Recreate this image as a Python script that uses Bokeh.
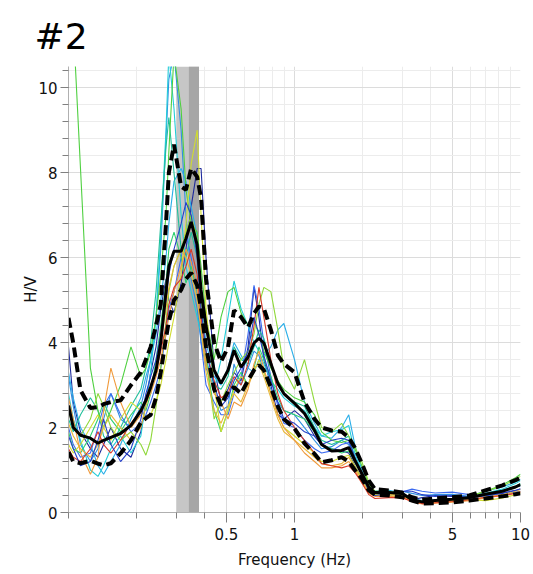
from bokeh.plotting import figure
from bokeh.models import (Range1d, FixedTicker, SingleIntervalTicker, CustomJSTickFormatter, Title)
from bokeh.embed import file_html
from bokeh.resources import INLINE

# ---------------- data ----------------
freq = [0.100, 0.105, 0.113, 0.125, 0.135, 0.143, 0.154, 0.170, 0.189, 0.209,
        0.220, 0.231, 0.244, 0.256, 0.270, 0.278, 0.293, 0.315, 0.331, 0.349,
        0.371, 0.386, 0.406, 0.441, 0.473, 0.508, 0.540, 0.580, 0.623, 0.662,
        0.696, 0.732, 0.786, 0.844, 0.897, 1.00, 1.107, 1.226, 1.318, 1.46,
        1.617, 1.738, 1.848, 1.985, 2.133, 2.268, 2.617, 2.989, 3.311, 3.668,
        4.19, 4.988, 5.933, 6.99, 8.318, 9.5, 10.0]

hv_mean = [2.52, 2.0, 1.82, 1.75, 1.63, 1.70, 1.77, 1.86, 2.05, 2.40,
           2.64, 2.95, 3.35, 4.0, 5.2, 5.8, 6.15, 6.15, 6.45, 6.84,
           6.3, 5.24, 4.4, 3.35, 3.04, 3.35, 3.82, 3.42, 3.66, 3.99,
           4.1, 3.99, 3.51, 3.04, 2.8, 2.57, 2.33, 1.93, 1.6, 1.45,
           1.46, 1.53, 1.23, 0.92, 0.59, 0.47, 0.47, 0.45, 0.3, 0.25,
           0.28, 0.31, 0.35, 0.43, 0.5, 0.6, 0.66]

hv_upper = [4.58, 3.99, 2.88, 2.46, 2.48, 2.55, 2.6, 2.64, 3.0, 3.3,
            3.6, 3.9, 4.4, 4.9, 6.8, 8.0, 8.66, 7.67, 7.6, 8.1,
            7.9, 7.4, 5.5, 4.0, 3.55, 3.89, 4.76, 4.6, 4.36, 4.69,
            4.85, 4.8, 4.3, 3.7, 3.5, 3.3, 2.6, 2.2, 2.0, 1.93,
            1.9, 1.77, 1.53, 1.16, 0.75, 0.55, 0.52, 0.47, 0.36, 0.3,
            0.33, 0.36, 0.4, 0.52, 0.64, 0.76, 0.82]

hv_lower = [1.42, 1.2, 1.16, 1.22, 1.15, 1.11, 1.16, 1.39, 1.7, 2.12,
            2.22, 2.3, 2.7, 3.3, 4.1, 4.5, 5.0, 5.24, 5.5, 5.64,
            5.35, 4.8, 3.9, 2.9, 2.52, 2.85, 2.95, 2.8, 3.11, 3.35,
            3.47, 3.35, 2.95, 2.5, 2.2, 1.98, 1.63, 1.38, 1.18, 1.23,
            1.3, 1.2, 1.0, 0.8, 0.52, 0.42, 0.4, 0.36, 0.28, 0.21,
            0.22, 0.24, 0.28, 0.33, 0.38, 0.43, 0.45]

# individual time windows
win_colors = ["#1e2a9c", "#2f8fe0", "#3c6af0", "#2aaee8", "#22ccd8", "#1fbf9a", "#2fcf70",
              "#4fd040", "#8fd83a", "#d0dc30", "#e8b83a", "#f09a3c", "#d83a2a", "#2640c8"]

win_01 = [3.9, 2.6, 1.9, 1.5, 1.3, 1.6, 2.0, 1.5, 1.3, 1.9, 2.6, 3.3, 3.9, 4.8, 5.5, 5.0, 4.7, 5.4, 6.2, 7.2,
          8.1, 8.1, 6.0, 3.4, 2.6, 2.9, 3.3, 3.1, 3.9, 5.3, 4.6, 3.6, 3.0, 2.3, 2.2, 2.4, 2.2, 1.8, 1.6, 1.5,
          1.45, 1.4, 1.1, 0.8, 0.5, 0.42, 0.44, 0.42, 0.3, 0.35, 0.4, 0.38, 0.33, 0.4, 0.45, 0.52, 0.55]
win_02 = [3.2, 2.5, 1.6, 1.2, 1.5, 2.2, 2.8, 2.2, 2.0, 2.5, 3.0, 3.6, 4.6, 6.2, 8.8, 10.2, 10.8, 9.0, 7.0, 5.5,
          4.8, 4.0, 3.4, 2.9, 2.4, 2.5, 3.5, 3.0, 3.4, 3.8, 3.7, 3.3, 2.9, 2.6, 2.4, 2.3, 2.0, 1.7, 1.5, 1.55,
          1.7, 1.6, 1.2, 0.9, 0.55, 0.45, 0.45, 0.5, 0.45, 0.4, 0.42, 0.43, 0.38, 0.45, 0.5, 0.6, 0.62]
win_03 = [2.0, 1.6, 1.3, 1.4, 2.0, 2.5, 2.8, 2.3, 1.9, 2.1, 2.3, 2.6, 3.0, 3.4, 4.2, 4.8, 5.2, 6.0, 6.6, 6.0,
          5.2, 4.0, 3.0, 2.6, 2.3, 2.3, 2.8, 3.2, 4.2, 5.35, 4.8, 4.0, 3.2, 2.5, 2.1, 2.0, 1.7, 1.5, 1.4, 1.45,
          1.6, 1.65, 1.3, 0.9, 0.5, 0.4, 0.4, 0.48, 0.55, 0.5, 0.46, 0.48, 0.42, 0.4, 0.42, 0.48, 0.5]
win_04 = [3.3, 2.7, 2.0, 1.6, 1.1, 0.9, 1.2, 1.6, 2.2, 2.7, 3.2, 3.6, 4.2, 5.0, 6.0, 6.8, 7.8, 8.1, 7.8, 7.2,
          6.5, 5.0, 4.0, 3.2, 3.0, 3.4, 4.0, 3.7, 3.4, 3.3, 3.6, 3.7, 3.9, 4.3, 4.45, 3.6, 2.6, 2.1, 1.8, 1.75,
          2.0, 2.3, 1.6, 1.0, 0.6, 0.5, 0.52, 0.46, 0.33, 0.28, 0.3, 0.33, 0.38, 0.5, 0.6, 0.72, 0.78]
win_05 = [2.8, 2.2, 1.7, 1.0, 0.85, 1.1, 1.5, 1.8, 1.4, 1.8, 2.6, 3.3, 4.6, 6.5, 9.0, 10.8, 9.5, 7.0, 5.8, 5.2,
          4.6, 4.2, 3.5, 2.9, 3.6, 4.6, 5.45, 4.8, 4.4, 4.0, 3.8, 3.5, 3.1, 2.9, 2.7, 2.5, 2.4, 2.0, 1.8, 1.9,
          1.95, 2.05, 1.4, 0.95, 0.6, 0.5, 0.48, 0.42, 0.32, 0.25, 0.27, 0.3, 0.36, 0.45, 0.55, 0.68, 0.75]
win_06 = [2.2, 1.9, 2.3, 2.7, 2.4, 1.8, 1.6, 2.0, 2.5, 2.9, 3.4, 4.0, 5.2, 6.8, 8.6, 9.3, 8.0, 6.2, 6.0, 6.6,
          6.0, 4.6, 3.6, 3.0, 2.9, 3.2, 3.9, 3.6, 3.5, 3.9, 4.3, 4.1, 3.5, 3.0, 2.8, 2.6, 2.5, 2.0, 1.7, 1.6,
          1.7, 1.8, 1.3, 0.95, 0.6, 0.5, 0.5, 0.44, 0.3, 0.26, 0.3, 0.32, 0.36, 0.44, 0.52, 0.62, 0.68]
win_07 = [1.9, 1.5, 1.4, 1.8, 2.2, 2.6, 2.2, 1.9, 2.3, 2.6, 2.4, 2.8, 3.6, 4.4, 5.4, 6.2, 6.6, 6.0, 5.4, 5.8,
          5.2, 4.4, 3.6, 2.4, 1.9, 2.4, 3.0, 3.3, 3.0, 3.4, 3.9, 3.6, 3.2, 2.7, 2.4, 2.3, 2.2, 1.9, 1.6, 1.5,
          1.4, 1.45, 1.2, 0.9, 0.55, 0.45, 0.46, 0.45, 0.32, 0.26, 0.27, 0.3, 0.35, 0.42, 0.5, 0.6, 0.66]
win_08 = [14.0, 11.5, 8.1, 3.4, 2.4, 2.0, 2.4, 3.0, 3.9, 3.2, 3.4, 3.8, 4.6, 5.6, 7.0, 8.5, 10.8, 9.5, 7.6, 6.8,
          6.6, 5.8, 4.6, 3.6, 4.6, 5.2, 5.3, 4.7, 4.4, 4.5, 4.2, 3.8, 3.4, 3.1, 2.9, 2.7, 2.6, 2.3, 1.9, 1.7,
          1.65, 1.7, 1.5, 1.1, 0.65, 0.5, 0.48, 0.42, 0.3, 0.25, 0.27, 0.3, 0.38, 0.5, 0.65, 0.82, 0.9]
win_09 = [2.4, 2.0, 1.8, 2.2, 2.8, 2.5, 2.0, 1.7, 1.9, 1.6, 1.35, 1.7, 2.5, 3.4, 4.5, 5.2, 5.8, 6.2, 6.6, 7.0,
          6.4, 5.0, 3.6, 2.2, 2.6, 3.0, 3.3, 3.6, 3.8, 4.2, 4.9, 5.3, 5.2, 4.3, 3.4, 2.9, 3.6, 2.6, 2.0, 1.9,
          2.1, 1.8, 1.55, 1.2, 0.7, 0.5, 0.5, 0.44, 0.32, 0.26, 0.28, 0.3, 0.37, 0.5, 0.62, 0.78, 0.85]
win_10 = [1.6, 1.4, 1.6, 2.0, 2.3, 2.0, 1.7, 2.2, 2.6, 2.4, 2.2, 2.3, 2.6, 3.0, 3.6, 4.0, 4.6, 5.6, 6.8, 8.2,
          9.0, 7.0, 4.8, 3.0, 1.9, 2.4, 2.9, 3.2, 3.0, 3.3, 3.6, 3.3, 2.8, 2.3, 2.0, 1.8, 1.6, 1.4, 1.2, 1.2,
          1.3, 1.35, 1.1, 0.8, 0.5, 0.42, 0.42, 0.4, 0.28, 0.22, 0.24, 0.26, 0.3, 0.28, 0.34, 0.42, 0.46]
win_11 = [2.1, 1.8, 1.5, 1.3, 1.6, 2.0, 2.3, 2.0, 1.7, 2.0, 2.5, 2.9, 3.4, 4.0, 4.8, 5.3, 5.8, 6.2, 6.0, 5.6,
          5.0, 4.3, 3.3, 2.4, 2.1, 2.5, 2.8, 2.6, 3.0, 3.4, 3.5, 3.2, 2.7, 2.2, 1.9, 1.7, 1.5, 1.3, 1.15, 1.1,
          1.15, 1.3, 1.05, 0.75, 0.48, 0.4, 0.42, 0.4, 0.28, 0.22, 0.25, 0.28, 0.3, 0.36, 0.42, 0.5, 0.55]
win_12 = [2.7, 2.2, 1.4, 0.9, 1.3, 2.4, 3.4, 2.6, 2.0, 2.3, 2.6, 2.8, 3.2, 3.6, 4.2, 4.6, 5.2, 5.8, 6.2, 5.9,
          5.3, 4.4, 3.5, 2.8, 2.6, 2.2, 2.6, 2.5, 2.9, 3.5, 3.8, 3.4, 2.8, 2.3, 2.0, 1.7, 1.4, 1.2, 1.05, 1.05,
          1.1, 1.2, 1.0, 0.7, 0.45, 0.38, 0.38, 0.36, 0.26, 0.2, 0.22, 0.24, 0.28, 0.34, 0.4, 0.46, 0.5]
win_13 = [1.5, 1.3, 1.2, 1.5, 1.9, 1.6, 1.4, 1.7, 2.1, 2.4, 2.7, 3.0, 3.3, 3.8, 4.4, 4.9, 5.3, 5.5, 5.8, 6.2,
          5.6, 4.6, 3.8, 3.1, 2.7, 2.8, 3.2, 3.0, 3.5, 4.4, 5.3, 4.6, 3.6, 2.8, 2.4, 2.0, 1.7, 1.4, 1.15, 1.1,
          1.05, 1.1, 0.95, 0.7, 0.42, 0.33, 0.35, 0.35, 0.26, 0.21, 0.23, 0.26, 0.3, 0.36, 0.4, 0.45, 0.48]
win_14 = [1.8, 1.5, 1.1, 1.2, 1.7, 2.2, 1.6, 1.2, 1.5, 2.2, 2.8, 3.2, 3.6, 4.2, 5.0, 5.6, 6.2, 6.8, 7.3, 7.0,
          6.0, 4.8, 3.8, 3.0, 2.5, 2.7, 3.1, 3.4, 3.8, 4.6, 4.2, 3.7, 3.1, 2.6, 2.2, 2.1, 1.9, 1.8, 1.6, 1.7,
          1.75, 1.7, 1.3, 0.9, 0.5, 0.4, 0.45, 0.5, 0.5, 0.42, 0.38, 0.4, 0.36, 0.4, 0.46, 0.52, 0.56]
windows = [win_01, win_02, win_03, win_04, win_05, win_06, win_07,
           win_08, win_09, win_10, win_11, win_12, win_13, win_14]

# f0 band (Hz)
band_light = (0.300, 0.378)
band_dark = (0.341, 0.378)

x_major = [0.5, 1, 5, 10]
x_minor = [0.1, 0.2, 0.3, 0.4, 0.6, 0.7, 0.8, 0.9, 2, 3, 4, 6, 7, 8, 9]

# ---------------- figure ----------------
FONT = "DejaVu Sans"
p = figure(frame_width=452, frame_height=446, x_axis_type="log",
           x_range=Range1d(0.1, 10), y_range=Range1d(0, 10.5),
           output_backend="svg", toolbar_location=None,
           min_border_left=68, min_border_right=12, min_border_top=66, min_border_bottom=56)
p.outline_line_color = None
p.background_fill_color = "white"

t = Title(text="#2", align="left", text_font=FONT, text_font_size="36px",
          text_font_style="normal", text_color="black", offset=-34, standoff=20)
p.add_layout(t, "above")

# band
p.quad(left=[band_light[0]], right=[band_light[1]], bottom=[0], top=[10.5],
       fill_color="#c6c6c6", line_color=None)
p.quad(left=[band_dark[0]], right=[band_dark[1]], bottom=[0], top=[10.5],
       fill_color="#a6a6a6", line_color=None)

for w, c in zip(windows, win_colors):
    p.line(freq, w, line_color=c, line_width=1.1)

p.line(freq, hv_upper, line_color="black", line_width=4, line_dash="10 5")
p.line(freq, hv_lower, line_color="black", line_width=4, line_dash="10 5")
p.line(freq, hv_mean, line_color="black", line_width=3)

# axes
p.xaxis.ticker = FixedTicker(ticks=x_major, minor_ticks=x_minor)
p.xaxis.formatter = CustomJSTickFormatter(code="return String(tick);")
p.yaxis.ticker = SingleIntervalTicker(interval=2, num_minor_ticks=5)

for ax in (p.xaxis[0], p.yaxis[0]):
    ax.axis_line_color = "#b0b0b0"
    ax.major_tick_line_color = "#808080"
    ax.minor_tick_line_color = "#808080"
    ax.major_tick_in = 0
    ax.minor_tick_in = 0
    ax.major_label_text_font = FONT
    ax.major_label_text_font_size = "15px"
    ax.major_label_text_color = "#111111"
    ax.axis_label_text_font = FONT
    ax.axis_label_text_font_size = "15px"
    ax.axis_label_text_font_style = "normal"
    ax.axis_label_text_color = "#111111"

p.xaxis.major_tick_out = 10
p.xaxis.minor_tick_out = 6
p.yaxis.major_tick_out = 8
p.yaxis.minor_tick_out = 6
p.yaxis.major_label_standoff = 3
p.xaxis.axis_label = "Frequency (Hz)"
p.yaxis.axis_label = "H/V"
p.xaxis.axis_label_standoff = 8
p.yaxis.axis_label_standoff = -5

p.xgrid.grid_line_color = "#dcdcdc"
p.ygrid.grid_line_color = "#dcdcdc"
p.xgrid.minor_grid_line_color = "#ececec"
p.ygrid.minor_grid_line_color = "#ececec"

open("out.html", "w").write(file_html(p, INLINE))
